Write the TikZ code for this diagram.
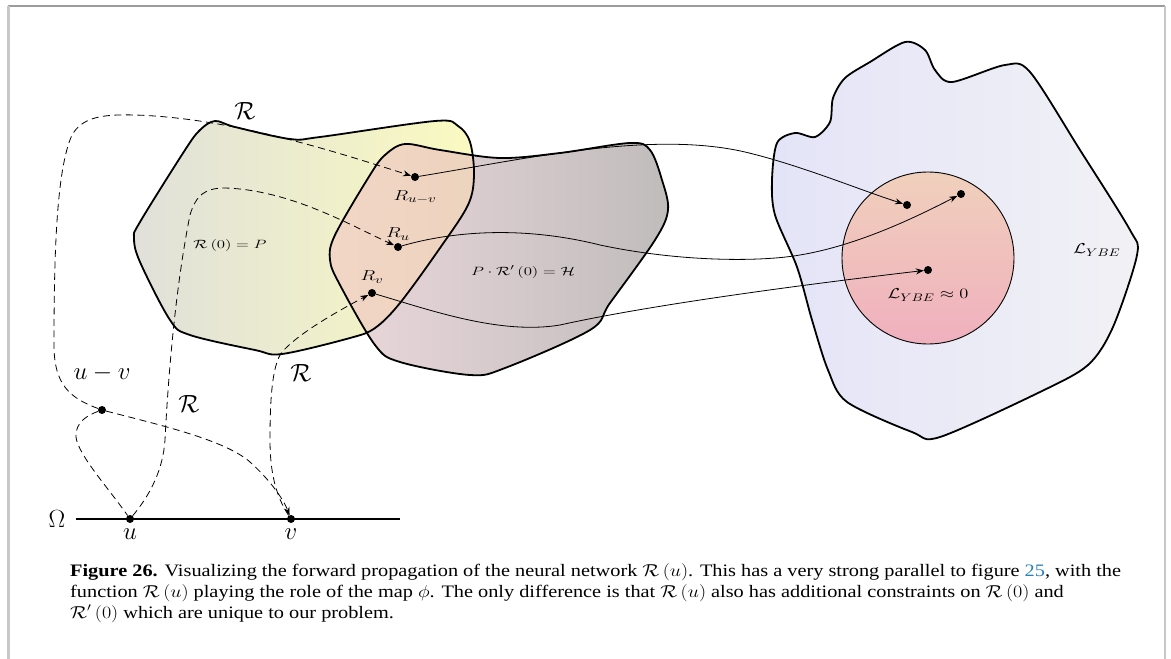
\documentclass[tikz,border=0pt]{standalone}
\usepackage{graphicx}
\usepackage{fontspec}
\setmainfont{Liberation Serif}
\usetikzlibrary{arrows.meta}
\definecolor{linkblue}{RGB}{41,128,185}
\definecolor{frameA}{RGB}{155,155,155}
\definecolor{frameB}{RGB}{200,200,200}
\definecolor{rL}{RGB}{224,224,218}
\definecolor{rR}{RGB}{250,250,192}
\definecolor{hL}{RGB}{236,216,220}
\definecolor{hR}{RGB}{192,188,188}
\definecolor{oL}{RGB}{242,214,198}
\definecolor{oR}{RGB}{230,208,178}
\definecolor{bL}{RGB}{228,228,248}
\definecolor{bR}{RGB}{241,241,245}
\definecolor{cT}{RGB}{240,208,188}
\definecolor{cB}{RGB}{240,176,190}
\newcommand{\xs}[2]{\scalebox{#1}[1]{#2}}
\tikzset{
  dot/.style={circle,fill=black,inner sep=0pt,minimum size=8pt},
  dashline/.style={line width=0.8pt,dash pattern=on 7pt off 4.5pt},
  flow/.style={line width=0.8pt},
  tip/.style={-{Stealth[length=8pt,width=6pt]}},
  shapeline/.style={line width=1.8pt,line join=round},
  big/.style={font=\fontsize{23}{26}\selectfont},
  small/.style={font=\fontsize{15}{17}\selectfont},
  tiny/.style={font=\fontsize{13}{15}\selectfont},
  capt/.style={anchor=base west,inner sep=0pt,font=\fontsize{17.5}{20}\selectfont}
}
\begin{document}
\begin{tikzpicture}[x=1pt,y=-1pt]
\useasboundingbox (0,0) rectangle (1171,659);
% frame
\draw[frameA,line width=1.5pt] (8,6) -- (1165,6);
\draw[frameB,line width=2.5pt] (8.5,6) -- (8.5,659);
\draw[frameB,line width=2pt] (1164.5,6) -- (1164.5,659);

% shapes R and H
\def\shapeR{plot[smooth cycle,tension=0.55] coordinates {(200,130) (215,121) (235,127) (290,139) (320,137) (435,121) (458,126) (470,142) (474,175) (468,205) (440,248) (400,303) (375,328) (350,338) (282,354) (255,350) (190,335) (170,320) (140,262) (134,238) (140,222) (185,150)}}
\def\shapeH{plot[smooth cycle,tension=0.55] coordinates {(385,155) (405,144) (440,150) (500,158) (560,153) (630,143) (650,150) (662,180) (668,210) (655,240) (610,303) (590,330) (505,368) (470,375) (400,362) (375,345) (340,285) (330,260) (335,235) (370,175)}}
\shade[left color=rL,right color=rR] \shapeR;
\shade[left color=hL,right color=hR] \shapeH;
\begin{scope}
\clip \shapeR;
\shade[left color=oL,right color=oR] \shapeH;
\end{scope}
\draw[shapeline] \shapeR;
\draw[shapeline] \shapeH;

% blob
\def\blob{plot[smooth cycle,tension=0.5] coordinates {(905,42) (925,50) (935,70) (952,82) (1005,65) (1030,72) (1080,150) (1130,230) (1137,255) (1113,327) (1088,365) (1040,392) (940,437) (912,432) (847,402) (828,370) (812,320) (797,267) (775,215) (772,180) (777,143) (795,133) (815,137) (830,122) (833,98) (845,78) (870,62)}}
\shade[left color=bL,right color=bR] \blob;
\draw[shapeline] \blob;
\shade[top color=cT,bottom color=cB] (928,258) circle[radius=86];
\draw[line width=0.9pt] (928,258) circle[radius=86];

% Omega line
\coordinate (O1) at (76,519);
\coordinate (O2) at (400,519);
\draw[line width=1.8pt] (O1) -- (O2);

% dots
\node[dot] (u) at (130,519) {};
\node[dot] (v) at (291,519) {};
\node[dot] (uv) at (102,410) {};
\node[dot] (Ruv) at (415,177) {};
\node[dot] (Ru) at (398,247) {};
\node[dot] (Rv) at (372,293) {};
\node[dot] (L1) at (907,205) {};
\node[dot] (L2) at (961,194) {};
\node[dot] (L3) at (928,270) {};

% dashed paths
\draw[dashline,tip] (uv) .. controls (70,398) and (54,385) .. (54,345) .. controls (54,260) and (56,170) .. (72,135) .. controls (82,118) and (100,114) .. (135,115) .. controls (230,118) and (330,150) .. (Ruv);
\draw[dashline,tip] (u) .. controls (150,495) and (163,470) .. (165,440) .. controls (168,380) and (175,290) .. (190,215) .. controls (196,195) and (205,188) .. (225,188) .. controls (290,190) and (350,225) .. (Ru);
\draw[dashline,tip] (v) .. controls (275,495) and (270,470) .. (270,440) .. controls (270,400) and (272,365) .. (282,352) .. controls (300,332) and (340,310) .. (Rv);
\draw[dashline,tip] (uv) .. controls (160,425) and (225,440) .. (250,462) .. controls (268,478) and (283,498) .. (v);
\draw[dashline] (uv) .. controls (88,415) and (75,422) .. (76,437) .. controls (78,455) and (110,490) .. (u);

% solid flows
\draw[flow,tip] (Ruv) .. controls (520,160) and (650,130) .. (745,152) .. controls (800,165) and (860,190) .. (L1);
\draw[flow,tip] (Ru) .. controls (450,232) and (520,225) .. (600,245) .. controls (680,262) and (760,262) .. (800,255) .. controls (860,245) and (920,215) .. (L2);
\draw[flow,tip] (Rv) .. controls (430,310) and (500,335) .. (560,325) .. controls (650,305) and (800,285) .. (L3);

% labels
\node[big] (lR1) at (245,111) {$\mathcal{R}$};
\node[big] (luv) at (102,373) {$u-v$};
\node[big] (lR2) at (189,404) {$\mathcal{R}$};
\node[big] (lR3) at (301,373) {$\mathcal{R}$};
\node[big] (lO) at (57,519) {$\Omega$};
\node[big] (lu) at (130,534) {$u$};
\node[big] (lv) at (291,534) {$v$};
\node[small] (tRuv) at (415,197) {\xs{1.35}{$R_{u-v}$}};
\node[small] (tRu) at (398,234) {\xs{1.35}{$R_u$}};
\node[small] (tRv) at (372,277) {\xs{1.35}{$R_v$}};
\node[tiny] (tR0) at (230,245) {\xs{1.4}{$\mathcal{R}\left(0\right)=P$}};
\node[tiny] (tH) at (523,272) {\xs{1.4}{$P\cdot\mathcal{R}'\left(0\right)=\mathcal{H}$}};
\node[small] (tL0) at (928,295) {\xs{1.28}{$\mathcal{L}_{YBE}\approx 0$}};
\node[small] (tL) at (1097,250) {\xs{1.28}{$\mathcal{L}_{YBE}$}};

% caption
\node[capt] (c1) at (70,576) {\xs{1.16}{\textbf{Figure 26.} Visualizing the forward propagation of the neural network $\mathcal{R}\left(u\right)$. This has a very strong parallel to figure {\color{linkblue}25}, with the}};
\node[capt] (c2) at (70,597) {\xs{1.16}{function $\mathcal{R}\left(u\right)$ playing the role of the map $\phi$. The only difference is that $\mathcal{R}\left(u\right)$ also has additional constraints on $\mathcal{R}\left(0\right)$ and}};
\node[capt] (c3) at (70,618) {\xs{1.16}{$\mathcal{R}'\left(0\right)$ which are unique to our problem.}};
\end{tikzpicture}
\end{document}
